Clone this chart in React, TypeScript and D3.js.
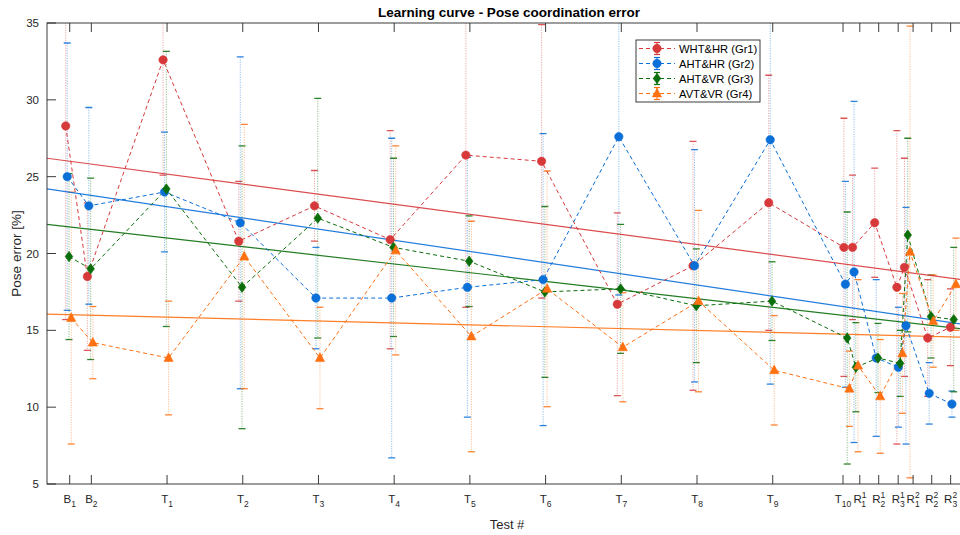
import React from 'react';
import * as d3 from 'd3';

const W = 960;
const H = 535;

// x positions (days) of the tests (data) and of the tick labels
const dataX = [0, 2, 9, 16, 23, 30, 37, 44, 51, 58, 65, 71.95, 72.75, 74.8, 76.85, 77.55, 79.7, 81.8];
const tickX = [0, 2, 9, 16, 23, 30, 37, 44, 51, 58, 65, 71.5, 73.05, 74.8, 76.6, 77.98, 79.7, 81.45];
const tickBase = ['B', 'B', 'T', 'T', 'T', 'T', 'T', 'T', 'T', 'T', 'T', 'T', 'R', 'R', 'R', 'R', 'R', 'R'];
const tickSub = ['1', '2', '1', '2', '3', '4', '5', '6', '7', '8', '9', '10', '1', '2', '3', '1', '2', '3'];
const tickSup = ['', '', '', '', '', '', '', '', '', '', '', '', '1', '1', '1', '2', '2', '2'];
const yTicks = [5, 10, 15, 20, 25, 30, 35];

const groupNames = ['WHT&HR (Gr1)', 'AHT&HR (Gr2)', 'AHT&VR (Gr3)', 'AVT&VR (Gr4)'];
const groupColors = ['#D7393B', '#0B6FD8', '#0A6E0A', '#FF7011'];
const groupMarkers = ['circle', 'circle', 'diamond', 'triangle'];

const meanGr1 = [28.3, 18.5, 32.6, 20.8, 23.1, 20.9, 26.4, 26.0, 16.7, 19.2, 23.3, 20.4, 20.4, 22.0, 17.8, 19.1, 14.5, 15.2];
const stdGr1 = [12.6, 4.8, 7.5, 3.9, 2.3, 7.1, 9.9, 8.9, 5.95, 8.1, 8.3, 8.4, 4.7, 3.55, 10.2, 7.1, 3.8, 2.5];
const meanGr2 = [25.0, 23.1, 24.0, 22.0, 17.1, 17.1, 17.8, 18.3, 27.6, 19.2, 27.4, 18.0, 18.8, 13.2, 12.6, 15.3, 10.9, 10.2];
const stdGr2 = [8.7, 6.4, 3.9, 10.8, 3.3, 10.4, 8.45, 9.5, 10.3, 7.56, 15.9, 6.7, 11.1, 5.1, 3.9, 7.7, 2.0, 0.85];
const meanGr3 = [19.8, 19.0, 24.2, 17.8, 22.3, 20.4, 19.5, 17.5, 17.7, 16.6, 16.9, 14.5, 12.6, 13.2, 12.85, 21.2, 15.9, 15.7];
const stdGr3 = [5.4, 5.9, 8.95, 9.2, 7.8, 5.8, 2.95, 5.56, 4.2, 3.7, 2.56, 8.2, 2.9, 2.25, 2.15, 6.3, 2.7, 4.7];
const meanGr4 = [15.8, 14.2, 13.2, 19.8, 13.2, 20.2, 14.6, 17.7, 13.9, 16.9, 12.4, 11.2, 12.7, 10.7, 13.5, 20.1, 15.6, 18.0];
const stdGr4 = [8.2, 2.35, 3.7, 8.6, 3.3, 6.8, 7.5, 7.67, 3.55, 5.9, 3.56, 2.45, 5.6, 3.7, 3.9, 14.7, 3.0, 3.0];

// linear trend values at the left and right axis limits
const trendStart = [26.2, 24.2, 21.9, 16.05];
const trendEnd = [18.25, 15.35, 15.05, 14.55];

const means = [meanGr1, meanGr2, meanGr3, meanGr4];
const stds = [stdGr1, stdGr2, stdGr3, stdGr4];

const FONT = '"Liberation Sans", Arial, Helvetica, sans-serif';
const AX = '#262626';

const left = 47, right = 967.4, top = 23, bottom = 484;
const groupShift = [-4, -2.5, -0.7, 1.5];

function Marker({ kind, x, y, color }: { kind: string; x: number; y: number; color: string }) {
  if (kind === 'circle') return <circle cx={x} cy={y} r={4.2} fill={color} stroke={color} strokeWidth={0.6} />;
  if (kind === 'diamond')
    return <path d={`M${x},${y - 5.2}L${x + 3.8},${y}L${x},${y + 5.2}L${x - 3.8},${y}Z`} fill={color} stroke={color} strokeWidth={0.6} />;
  return <path d={`M${x},${y - 5.2}L${x + 4.6},${y + 3.4}L${x - 4.6},${y + 3.4}Z`} fill={color} stroke={color} strokeWidth={0.6} />;
}

export default function App() {
  const x = d3.scaleLinear().domain([-2.1, 83]).range([left, right]);
  const y = d3.scaleLinear().domain([5, 35]).range([bottom, top]);
  const line = d3.line<[number, number]>().x((d) => d[0]).y((d) => d[1]);

  return (
    <svg width={W} height={H} style={{ position: 'fixed', left: 0, top: 0, background: '#fff' }} fontFamily={FONT}>
      <defs>
        <clipPath id="plotclip">
          <rect x={left} y={top} width={right - left} height={bottom - top} />
        </clipPath>
      </defs>
      <rect x={0} y={0} width={W} height={H} fill="#fff" />
      <g clipPath="url(#plotclip)">
        {/* error bars */}
        {means.map((m, g) =>
          m.map((v, i) => {
            const cx = x(dataX[i]) + groupShift[g];
            const y1 = y(v + stds[g][i]);
            const y2 = y(v - stds[g][i]);
            return (
              <g key={`e${g}-${i}`}>
                <line x1={cx} x2={cx} y1={y1} y2={y2} stroke={groupColors[g]} strokeOpacity={0.45} strokeWidth={1} strokeDasharray="1.2,1.3" />
                <line x1={cx - 3.5} x2={cx + 3.5} y1={y1} y2={y1} stroke={groupColors[g]} strokeOpacity={0.85} strokeWidth={1.3} />
                <line x1={cx - 3.5} x2={cx + 3.5} y1={y2} y2={y2} stroke={groupColors[g]} strokeOpacity={0.85} strokeWidth={1.3} />
              </g>
            );
          })
        )}
        {/* trend lines */}
        {trendStart.map((s, g) => (
          <path key={`t${g}`} d={line([[x(-2.1), y(s)], [x(83), y(trendEnd[g])]]) || ''} stroke={groupColors[g]} strokeOpacity={0.9} strokeWidth={1.2} fill="none" />
        ))}
        {/* dashed connecting lines */}
        {means.map((m, g) => (
          <path key={`l${g}`} d={line(m.map((v, i) => [x(dataX[i]) + groupShift[g], y(v)] as [number, number])) || ''} stroke={groupColors[g]} strokeWidth={1} strokeDasharray="4,3" fill="none" />
        ))}
        {/* markers */}
        {means.map((m, g) =>
          m.map((v, i) => <Marker key={`m${g}-${i}`} kind={groupMarkers[g]} x={x(dataX[i]) + groupShift[g]} y={y(v)} color={groupColors[g]} />)
        )}
      </g>

      {/* axes box */}
      <rect x={left} y={top} width={right - left} height={bottom - top} fill="none" stroke={AX} strokeWidth={0.9} />
      {/* x ticks */}
      {tickX.map((t, i) => (
        <g key={`xt${i}`}>
          <line x1={x(t)} x2={x(t)} y1={bottom} y2={bottom - 9} stroke={AX} strokeWidth={0.9} />
          <line x1={x(t)} x2={x(t)} y1={top} y2={top + 9} stroke={AX} strokeWidth={0.9} />
          <text x={x(t)} y={503} textAnchor="middle" fontSize={11.5} fill={AX}>
            <tspan>{tickBase[i]}</tspan>
            {tickSup[i] ? (
              <>
                <tspan fontSize={8.5} dy={-5}>{tickSup[i]}</tspan>
                <tspan fontSize={8.5} dx={-4.7} dy={9}>{tickSub[i]}</tspan>
              </>
            ) : (
              <tspan fontSize={8.5} dy={4}>{tickSub[i]}</tspan>
            )}
          </text>
        </g>
      ))}
      {/* y ticks */}
      {yTicks.map((t) => (
        <g key={`yt${t}`}>
          <line x1={left} x2={left + 9} y1={y(t)} y2={y(t)} stroke={AX} strokeWidth={0.9} />
          <text x={39} y={y(t) + 4} textAnchor="end" fontSize={11.5} fill={AX}>{t}</text>
        </g>
      ))}
      {/* labels */}
      <text x={509} y={16.5} textAnchor="middle" fontSize={13.5} fontWeight="bold" fill="#000">Learning curve - Pose coordination error</text>
      <text x={507} y={529} textAnchor="middle" fontSize={13} fill={AX}>Test #</text>
      <text transform={`translate(20.5,${(top + bottom) / 2}) rotate(-90)`} textAnchor="middle" fontSize={13.5} fill={AX}>Pose error [%]</text>

      {/* legend */}
      <g>
        <rect x={636} y={40} width={124} height={62} fill="#fff" stroke={AX} strokeWidth={0.9} />
        {groupNames.map((n, g) => {
          const ly = 48.5 + g * 15;
          return (
            <g key={`lg${g}`}>
              <line x1={639} x2={675} y1={ly} y2={ly} stroke={groupColors[g]} strokeWidth={1} strokeDasharray="4,3" />
              <line x1={657} x2={657} y1={ly - 6} y2={ly + 6} stroke={groupColors[g]} strokeWidth={1} />
              <line x1={654} x2={660} y1={ly - 6} y2={ly - 6} stroke={groupColors[g]} strokeWidth={1.2} />
              <line x1={654} x2={660} y1={ly + 6} y2={ly + 6} stroke={groupColors[g]} strokeWidth={1.2} />
              <Marker kind={groupMarkers[g]} x={657} y={ly} color={groupColors[g]} />
              <text x={679} y={ly + 4} fontSize={11.2} fill="#000">{n}</text>
            </g>
          );
        })}
      </g>
    </svg>
  );
}
